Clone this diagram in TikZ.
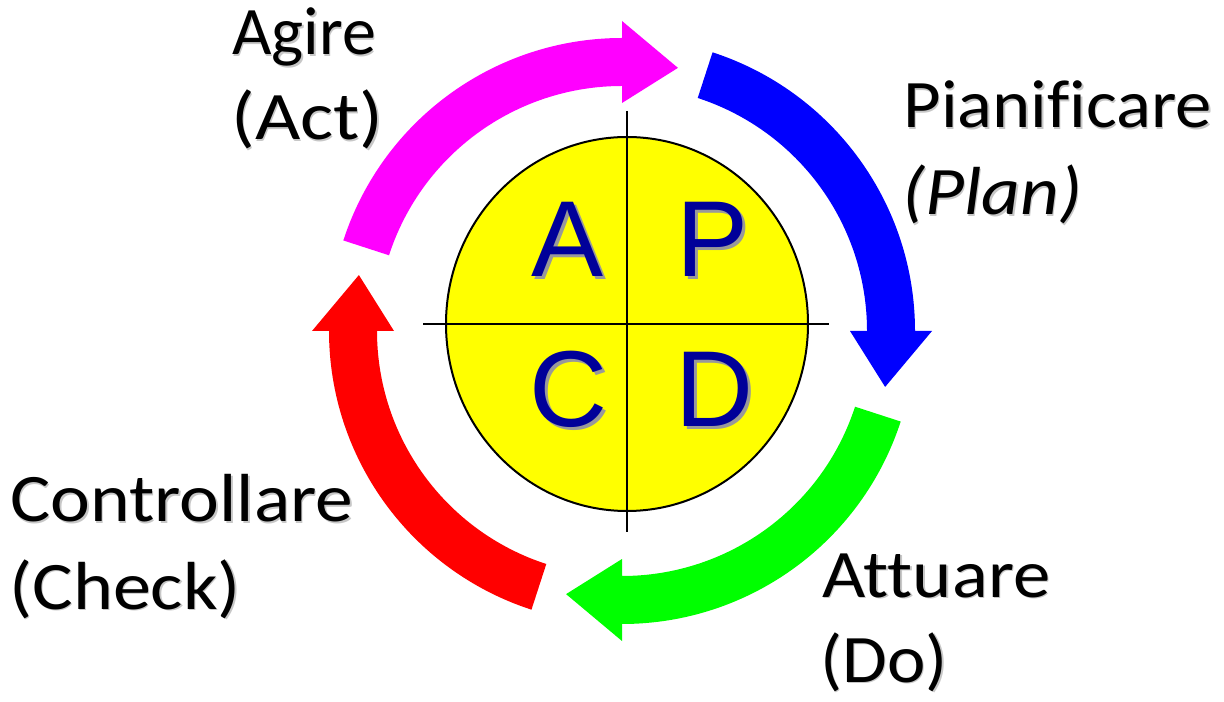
\documentclass[tikz,border=0pt]{standalone}
\usepackage{graphicx}
\usepackage{fontspec}
\setmainfont{Carlito}[Ligatures=CommonOff]
\newfontfamily\letterfont{Liberation Sans}
\definecolor{letterblue}{RGB}{0,0,153}
\definecolor{actcol}{RGB}{255,0,255}
\definecolor{plancol}{RGB}{0,0,255}
\definecolor{docol}{RGB}{0,255,0}
\definecolor{checkcol}{RGB}{255,0,0}
\definecolor{disccol}{RGB}{255,255,0}
\tikzset{
  lbl/.style={inner sep=0pt, anchor=base west, font=\fontsize{34}{40}\selectfont},
  lblshadow/.style={lbl, text=black!22},
  pdca/.style={inner sep=0pt, anchor=base, text=letterblue, font=\letterfont\fontsize{54}{60}\selectfont},
  pdcashadow/.style={pdca, text=black!40},
}

\begin{document}
\begin{tikzpicture}[x=0.5pt,y=0.5pt]
\useasboundingbox (0,0) rectangle (1224,701);
% the four arrows of the cycle
\begin{scope}[shift={(622,370)}]
  \foreach \b/\col in {90/actcol,0/plancol,-90/docol,180/checkcol}
    \fill[\col] ({\b+72}:293) arc[start angle=\b+72, end angle=\b, radius=293]
      -- (\b:310) -- ({\b-12}:269) -- (\b:228) -- (\b:245)
      arc[start angle=\b, end angle=\b+72, radius=245] -- cycle;
\end{scope}
% yellow disc and cross
\coordinate (c) at (627,377);
\draw[line width=1pt, fill=disccol] (c) ellipse [x radius=181, y radius=187];
\coordinate (top) at (627,590); \coordinate (bot) at (627,169);
\coordinate (lft) at (423,377); \coordinate (rgt) at (829,377);
\draw[line width=1pt] (top) -- (bot);
\draw[line width=1pt] (lft) -- (rgt);
\foreach \x/\y/\t in {568/424/A, 713/424/P, 568/274/C, 714/274/D} {
  \node[pdcashadow] (s\t) at (\x+3,\y-3) {\t};
  \node[pdca] (l\t) at (\x,\y) {\t};
}
% labels
\foreach \n/\x/\y/\f/\t in {agire/232/646/1/Agire, act/231/561/1.15/(Act),
    plan/903/573/1.07/Pianificare, planen/902/486/1.11/{\itshape (Plan)},
    attuare/822/104/1.1/Attuare, doen/820/19/1.07/(Do),
    contr/10/179/1.11/Controllare, check/9/92/1.12/(Check)} {
  \node[lblshadow] (s\n) at (\x+1.5,\y-1.5) {\scalebox{\f}[1]{\t}};
  \node[lbl] (\n) at (\x,\y) {\scalebox{\f}[1]{\t}};
}
\end{tikzpicture}
\end{document}
